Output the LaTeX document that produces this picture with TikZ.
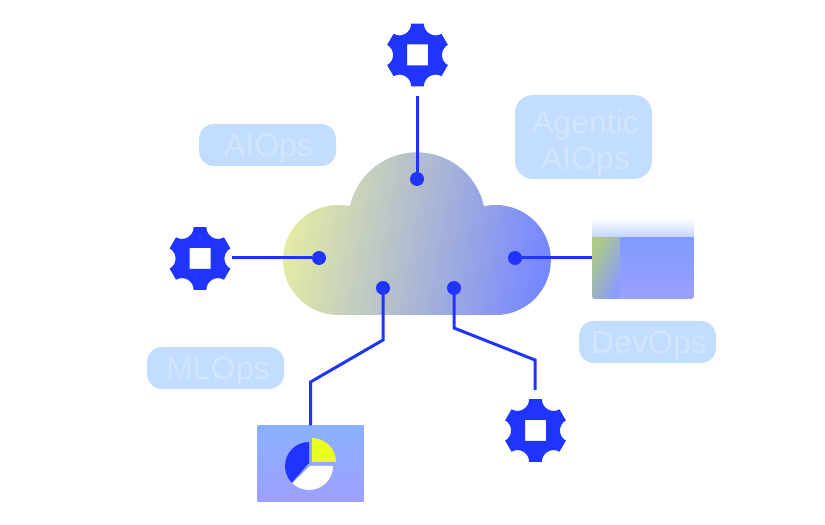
\documentclass[tikz,border=0pt]{standalone}
\usepackage{fontspec}
\setmainfont{Liberation Sans}
\definecolor{cobalt}{HTML}{1F35FF}
\definecolor{pill}{HTML}{C2DDFF}
\definecolor{pilltext}{HTML}{D3E5FF}
\definecolor{cloudleft}{HTML}{E4EBA4}
\definecolor{cloudright}{HTML}{7888FF}
\definecolor{boxtop}{HTML}{8CB0FF}
\definecolor{boxmid}{HTML}{7F9BFF}
\definecolor{boxlow}{HTML}{9CA0FF}
\definecolor{stripleft}{HTML}{AECB84}
\definecolor{stripright}{HTML}{8A9CFF}
\definecolor{lime}{HTML}{E8FF20}
\tikzset{
  tag/.style={fill=pill,rounded corners=15pt,minimum width=137pt,minimum height=42pt,inner sep=0pt},
  tagtext/.style={text=pilltext,inner sep=0pt,font=\fontsize{32}{36}\selectfont,align=center},
  wire/.style={cobalt,line width=3pt,line join=miter},
  port/.style={circle,fill=cobalt,minimum size=14pt,inner sep=0pt},
  holder/.style={minimum size=0pt,inner sep=0pt},
}
\newcommand{\gear}[1]{%
  \fill[cobalt,even odd rule,shift={(#1)}] (101.5:32)
    \foreach \a in {90,30,-30,-90,-150,-210}
      { -- (\a+11.5:32) -- (\a-11.5:32) .. controls (\a-15.9:23.2) and (\a-44.1:23.2) .. (\a-48.5:32) }
    -- cycle (-10.5,-10.5) rectangle (10.5,10.5);
}
\begin{document}
\begin{tikzpicture}[x=1pt,y=1pt]
  \useasboundingbox (0,0) rectangle (825,525);
  % labels
  \node[tag] (aiops) at (267.5,380) {};
  \node[tagtext] at (268.5,376) {AIOps};
  \node[tag,minimum height=84pt,rounded corners=18pt] (agentic) at (583.5,388) {};
  \node[tagtext] at (585.5,382) {Agentic\\AIOps};
  \node[tag] (devops) at (647.5,183) {};
  \node[tagtext] at (649,179) {DevOps};
  \node[tag] (mlops) at (215.5,157) {};
  \node[tagtext] at (218,153) {MLOps};
  % cloud
  \shade[left color=cloudleft,right color=cloudright,shading angle=80]
    (338,210) arc[start angle=270,end angle=77.5,radius=55]
    arc[start angle=167.7,end angle=12.3,radius=68.6]
    arc[start angle=102.5,end angle=-90,radius=55] -- cycle;
  % right box
  \node[holder,minimum width=102pt,minimum height=81pt] (rightbox) at (643,266.5) {};
  \begin{scope}
    \clip[rounded corners=3pt] (592,226) rectangle (694,320);
    \shade[top color=white,bottom color=boxtop!55!white] (592,307) rectangle (694,287);
    \shade[top color=boxmid,bottom color=boxlow] (592,287) rectangle (694,226);
    \shade[left color=stripleft,right color=stripright,shading angle=65] (592,287) rectangle (620,226);
  \end{scope}
  % pie box
  \node[holder,minimum width=106pt,minimum height=76.5pt] (piebox) at (310.5,61.25) {};
  \shade[top color=boxtop,middle color=boxmid,bottom color=boxlow] (257.5,23) rectangle (363.5,99.5);
  \fill[cobalt] (309,62) -- (309,83) arc[start angle=90,end angle=224,radius=24] -- cycle;
  \fill[white] (310,59) -- (333,59) arc[start angle=0,end angle=-134,radius=24] -- cycle;
  \fill[lime] (312,63) -- (336,63) arc[start angle=0,end angle=90,radius=24] -- cycle;
  % gears
  \gear{417.5,470}
  \gear{200,266.5}
  \gear{535.5,94.5}
  % ports
  \node[port] (top) at (417,346) {};
  \node[port] (left) at (319,267) {};
  \node[port] (right) at (515,267) {};
  \node[port] (lowleft) at (383,237) {};
  \node[port] (lowright) at (454,237) {};
  \coordinate (topend) at (417,429);
  \coordinate (leftend) at (232,267);
  \coordinate (lowend) at (535,135);
  % wires
  \draw[wire] (topend) -- (top);
  \draw[wire] (leftend) -- (left);
  \draw[wire] (right) -- (rightbox.west |- right);
  \draw[wire] (lowleft) -- (383,185) -- (310.5,143) -- (piebox.north);
  \draw[wire] (lowright) -- (454,197) -- (535,165) -- (lowend);
\end{tikzpicture}
\end{document}
